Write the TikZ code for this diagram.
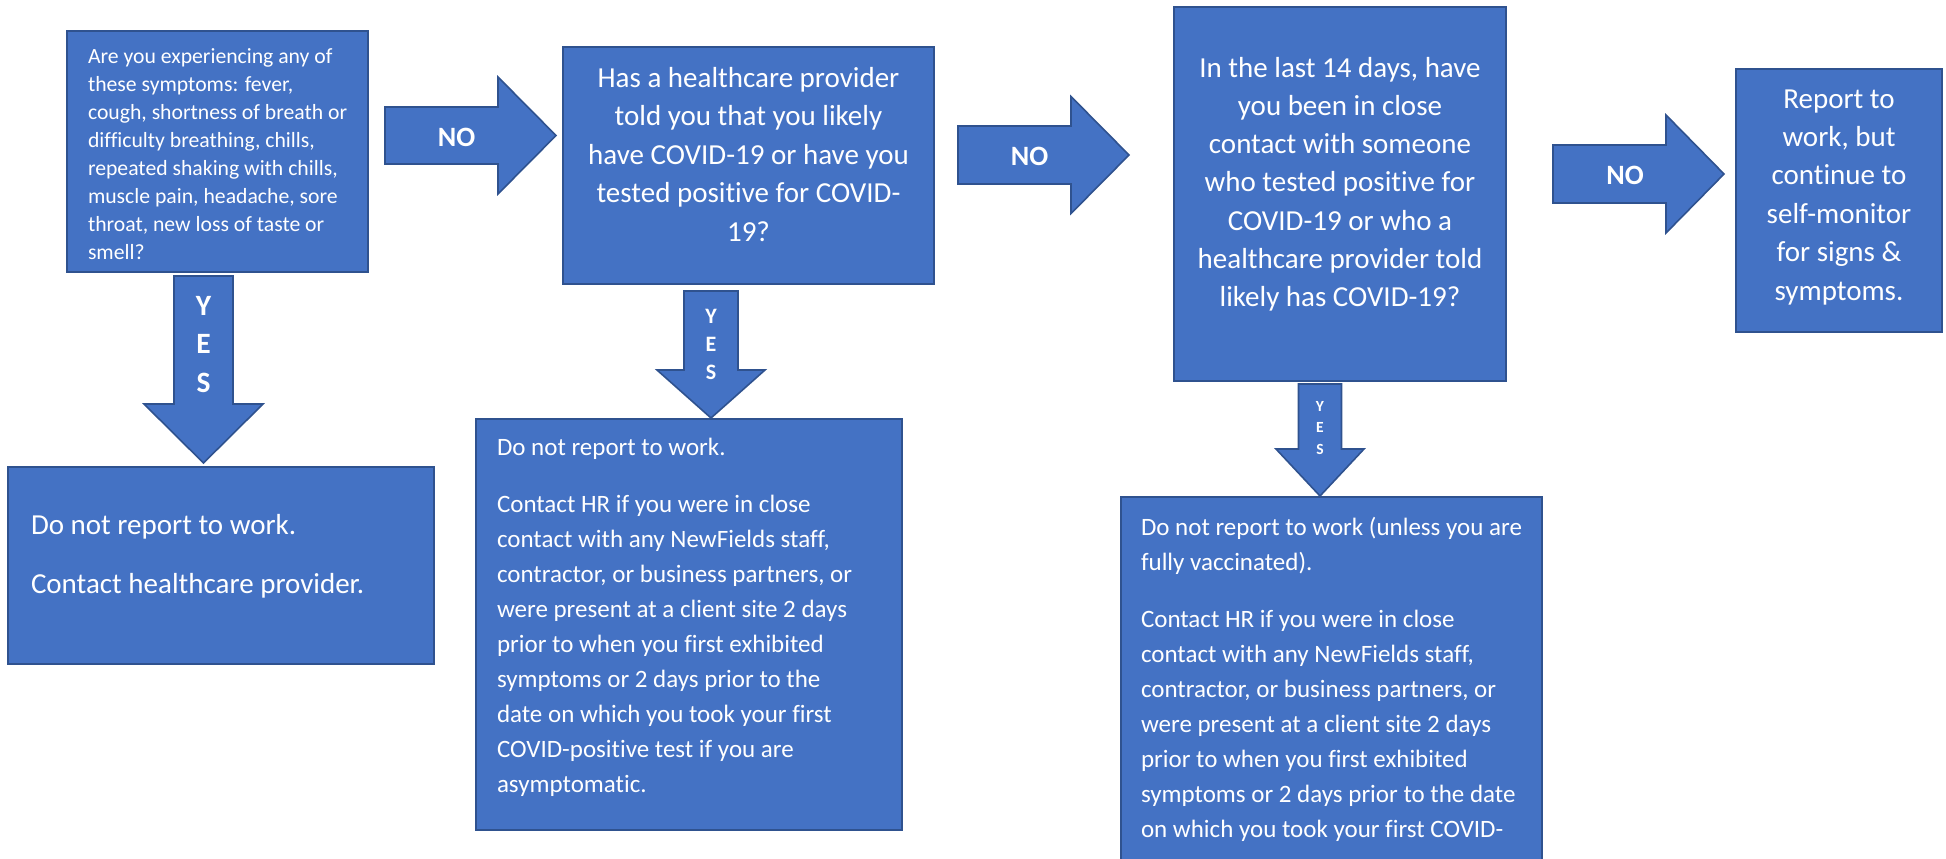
\documentclass[tikz,border=0pt]{standalone}
\usepackage{fontspec}
\setmainfont{Carlito}[Ligatures={NoCommon}]
\definecolor{boxfill}{HTML}{4472C4}
\definecolor{boxline}{HTML}{2F528F}
% zero-width strut of 1em: fixes the top of a text block relative to its first baseline
\newcommand\fl{\rule{0pt}{1em}}
% block arrows: right (x0 x1 x2 yc shafthalf headhalf), down (xc y0 y1 y2 shafthalf headhalf)
\newcommand\blockright[6]{%
  \draw[blockarrow] (#1,#4-#5) -- (#2,#4-#5) -- (#2,#4-#6) -- (#3,#4)
    -- (#2,#4+#6) -- (#2,#4+#5) -- (#1,#4+#5) -- cycle;}
\newcommand\blockdown[6]{%
  \draw[blockarrow] (#1-#5,#2) -- (#1+#5,#2) -- (#1+#5,#3) -- (#1+#6,#3)
    -- (#1,#4) -- (#1-#6,#3) -- (#1-#5,#3) -- (#1-#5,#2) -- cycle;}
\tikzset{
  box/.style={draw=boxline, fill=boxfill, line width=1.6pt, rectangle,
    inner sep=0pt, outer sep=0pt},
  blockarrow/.style={draw=boxline, fill=boxfill, line width=1.6pt, line join=miter},
  txt/.style={text=white, inner sep=0pt, outer sep=0pt},
  lefttxt/.style={txt, align=left, anchor=north west},
  midtxt/.style={txt, align=center, anchor=north},
  nolabel/.style={txt, anchor=base, font=\fontsize{28}{34}\selectfont\bfseries},
}
\begin{document}
\begin{tikzpicture}[x=1pt, y=-1pt]
\useasboundingbox (0,0) rectangle (1946,859);

% question and outcome boxes
\node[box, minimum width=301, minimum height=241] (q1) at (217.5,151.5) {};
\node[box, minimum width=371, minimum height=237] (q2) at (748.5,165.5) {};
\node[box, minimum width=332, minimum height=374] (q3) at (1340,194) {};
\node[box, minimum width=206, minimum height=263] (ok) at (1839,200.5) {};
\node[box, minimum width=426, minimum height=197] (r1) at (221,565.5) {};
\node[box, minimum width=426, minimum height=411] (r2) at (689,624.5) {};
\begin{scope}
  \clip (0,0) rectangle (1946,859);
  \node[box, minimum width=421, minimum height=403] (r3) at (1331.5,698.5) {};
\end{scope}

% block arrows
\blockright{385}{498}{556}{135.5}{28.5}{58.5}
\blockright{958}{1071}{1129}{155}{29}{58.5}
\blockright{1553}{1666}{1724}{174}{29}{59}
\blockdown{203.5}{276}{404}{463}{29.5}{59.5}
\blockdown{711}{291}{370}{418}{27}{54}
\blockdown{1320}{384}{449}{496}{21.5}{44}

% arrow labels
\node[nolabel] (no1) at (456.5,146) {NO};
\node[nolabel] (no2) at (1029.5,165) {NO};
\node[nolabel] (no3) at (1625,184) {NO};
\node[midtxt, font=\fontsize{29.5}{38.5}\selectfont\bfseries] (yes1) at (203.5,285.5) {\fl Y\\E\\S};
\node[midtxt, font=\fontsize{22}{28}\selectfont\bfseries] (yes2) at (711,301) {\fl Y\\E\\S};
\node[midtxt, font=\fontsize{15.5}{21.5}\selectfont\bfseries] (yes3) at (1320,395.5) {\fl Y\\E\\S};

% box texts
\node[lefttxt, font=\fontsize{21.7}{28.1}\selectfont] (t1) at (88,41.3)
  {\fl Are you experiencing any of\\these symptoms: fever,\\cough, shortness of breath or\\
   difficulty breathing, chills,\\repeated shaking with chills,\\muscle pain, headache, sore\\
   throat, new loss of taste or\\smell?};
\node[midtxt, font=\fontsize{29}{38.6}\selectfont] (t2) at (748.5,58)
  {\fl Has a healthcare provider\\told you that you likely\\have COVID-19 or have you\\
   tested positive for COVID-\\19?};
\node[midtxt, font=\fontsize{29}{38.3}\selectfont] (t3) at (1340,48)
  {\fl In the last 14 days, have\\you been in close\\contact with someone\\
   who tested positive for\\COVID-19 or who a\\healthcare provider told\\likely has COVID-19?};
\node[midtxt, font=\fontsize{29}{38.4}\selectfont] (t4) at (1839,79)
  {\fl Report to\\work, but\\continue to\\self-monitor\\for signs \&\\symptoms.};
\node[lefttxt, font=\fontsize{29}{38.6}\selectfont] (t5) at (31,505)
  {\fl Do not report to work.\\[20.4pt]Contact healthcare provider.};
\node[lefttxt, font=\fontsize{25}{35}\selectfont] (t6) at (497,430)
  {\fl Do not report to work.\\[22pt]Contact HR if you were in close\\
   contact with any NewFields staff,\\contractor, or business partners, or\\
   were present at a client site 2 days\\prior to when you first exhibited\\
   symptoms or 2 days prior to the\\date on which you took your first\\
   COVID-positive test if you are\\asymptomatic.};
\node[lefttxt, font=\fontsize{25}{35}\selectfont] (t7) at (1141,510)
  {\fl Do not report to work (unless you are\\fully vaccinated).\\[22pt]
   Contact HR if you were in close\\contact with any NewFields staff,\\
   contractor, or business partners, or\\were present at a client site 2 days\\
   prior to when you first exhibited\\symptoms or 2 days prior to the date\\
   on which you took your first COVID-};
\end{tikzpicture}
\end{document}
